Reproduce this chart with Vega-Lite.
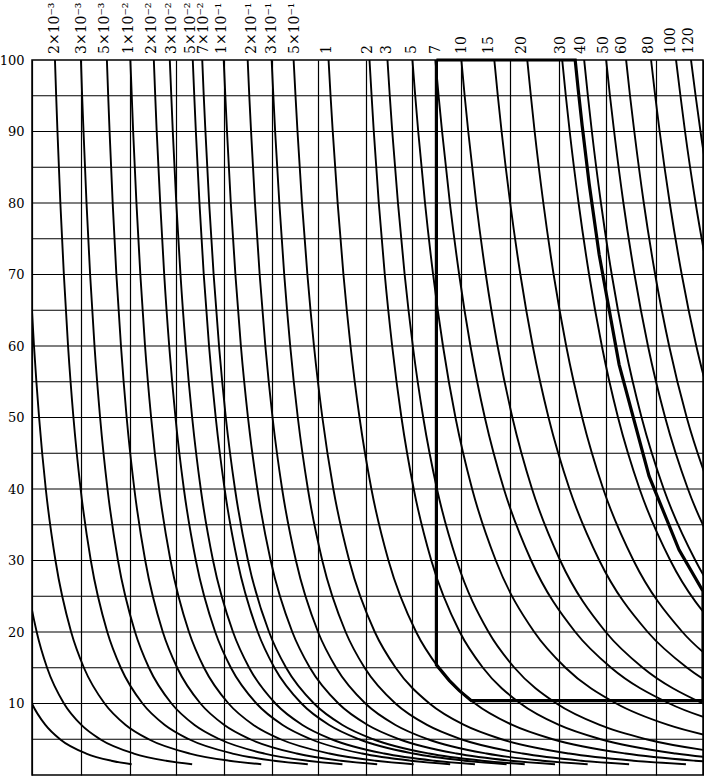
{
  "$schema": "https://vega.github.io/schema/vega-lite/v6.json",
  "width": 671,
  "height": 715,
  "autosize": "none",
  "padding": {"left": 32, "top": 60, "right": 1, "bottom": 2},
  "background": "white",
  "config": {
    "view": {"stroke": "black", "strokeWidth": 1.5},
    "axis": {"gridColor": "black", "gridWidth": 1.2, "gridOpacity": 1, "domain": false, "ticks": false, "labelFont": "DejaVu Serif", "labelFontSize": 13, "labelColor": "black"}
  },
  "datasets": {
    "hgrid": [{"g":5},{"g":10},{"g":15},{"g":20},{"g":25},{"g":30},{"g":35},{"g":40},{"g":45},{"g":50},{"g":55},{"g":60},{"g":65},{"g":70},{"g":75},{"g":80},{"g":85},{"g":90},{"g":95}],
    "curves": [
      {"c":"C","x":-21.4,"y":20},{"c":"C","x":-13.3,"y":15},{"c":"C","x":-0.1,"y":10},{"c":"C","x":13.4,"y":7},{"c":"C","x":28.0,"y":5},{"c":"C","x":54.3,"y":3},{"c":"C","x":79.4,"y":2},{"c":"C","x":99.8,"y":1.5},
      {"c":"B","x":-16.1,"y":40},{"c":"B","x":-8.2,"y":30},{"c":"B","x":4.7,"y":20},{"c":"B","x":15.1,"y":15},{"c":"B","x":32.0,"y":10},{"c":"B","x":49.4,"y":7},{"c":"B","x":68.2,"y":5},{"c":"B","x":102.0,"y":3},{"c":"B","x":134.2,"y":2},{"c":"B","x":160.4,"y":1.5},
      {"c":"A","x":-5.4,"y":80},{"c":"A","x":-2.1,"y":70},{"c":"A","x":2.0,"y":60},{"c":"A","x":7.1,"y":50},{"c":"A","x":13.8,"y":40},{"c":"A","x":23.5,"y":30},{"c":"A","x":39.2,"y":20},{"c":"A","x":52.0,"y":15},{"c":"A","x":72.7,"y":10},{"c":"A","x":93.8,"y":7},{"c":"A","x":116.8,"y":5},{"c":"A","x":158.1,"y":3},{"c":"A","x":197.5,"y":2},{"c":"A","x":229.6,"y":1.5},
      {"c":"k01","x":23,"y":100},{"c":"k01","x":24.2,"y":95},{"c":"k01","x":25.5,"y":90},{"c":"k01","x":28.4,"y":80},{"c":"k01","x":31.9,"y":70},{"c":"k01","x":36.1,"y":60},{"c":"k01","x":41.5,"y":50},{"c":"k01","x":48.7,"y":40},{"c":"k01","x":58.9,"y":30},{"c":"k01","x":75.4,"y":20},{"c":"k01","x":88.9,"y":15},{"c":"k01","x":110.7,"y":10},{"c":"k01","x":133.0,"y":7},{"c":"k01","x":157.2,"y":5},{"c":"k01","x":200.8,"y":3},{"c":"k01","x":242.3,"y":2},{"c":"k01","x":276.2,"y":1.5},
      {"c":"k02","x":49,"y":100},{"c":"k02","x":50.2,"y":95},{"c":"k02","x":51.6,"y":90},{"c":"k02","x":54.6,"y":80},{"c":"k02","x":58.2,"y":70},{"c":"k02","x":62.6,"y":60},{"c":"k02","x":68.2,"y":50},{"c":"k02","x":75.6,"y":40},{"c":"k02","x":86.1,"y":30},{"c":"k02","x":103.2,"y":20},{"c":"k02","x":117.1,"y":15},{"c":"k02","x":139.7,"y":10},{"c":"k02","x":162.8,"y":7},{"c":"k02","x":187.9,"y":5},{"c":"k02","x":232.9,"y":3},{"c":"k02","x":275.9,"y":2},{"c":"k02","x":310.9,"y":1.5},
      {"c":"k03","x":75,"y":100},{"c":"k03","x":76.3,"y":95},{"c":"k03","x":77.7,"y":90},{"c":"k03","x":80.8,"y":80},{"c":"k03","x":84.5,"y":70},{"c":"k03","x":89.1,"y":60},{"c":"k03","x":94.8,"y":50},{"c":"k03","x":102.5,"y":40},{"c":"k03","x":113.4,"y":30},{"c":"k03","x":131.0,"y":20},{"c":"k03","x":145.4,"y":15},{"c":"k03","x":168.7,"y":10},{"c":"k03","x":192.6,"y":7},{"c":"k03","x":218.5,"y":5},{"c":"k03","x":265.1,"y":3},{"c":"k03","x":309.5,"y":2},{"c":"k03","x":345.7,"y":1.5},
      {"c":"k04","x":98.5,"y":100},{"c":"k04","x":99.9,"y":95},{"c":"k04","x":101.3,"y":90},{"c":"k04","x":104.6,"y":80},{"c":"k04","x":108.5,"y":70},{"c":"k04","x":113.2,"y":60},{"c":"k04","x":119.3,"y":50},{"c":"k04","x":127.3,"y":40},{"c":"k04","x":138.7,"y":30},{"c":"k04","x":157.2,"y":20},{"c":"k04","x":172.3,"y":15},{"c":"k04","x":196.8,"y":10},{"c":"k04","x":221.8,"y":7},{"c":"k04","x":248.9,"y":5},{"c":"k04","x":297.8,"y":3},{"c":"k04","x":344.3,"y":2},{"c":"k04","x":382.2,"y":1.5},
      {"c":"k05","x":122,"y":100},{"c":"k05","x":123.4,"y":95},{"c":"k05","x":124.9,"y":90},{"c":"k05","x":128.4,"y":80},{"c":"k05","x":132.4,"y":70},{"c":"k05","x":137.4,"y":60},{"c":"k05","x":143.7,"y":50},{"c":"k05","x":152.1,"y":40},{"c":"k05","x":164.1,"y":30},{"c":"k05","x":183.5,"y":20},{"c":"k05","x":199.2,"y":15},{"c":"k05","x":224.8,"y":10},{"c":"k05","x":251.0,"y":7},{"c":"k05","x":279.4,"y":5},{"c":"k05","x":330.5,"y":3},{"c":"k05","x":379.2,"y":2},{"c":"k05","x":418.8,"y":1.5},
      {"c":"k06","x":138,"y":100},{"c":"k06","x":139.5,"y":95},{"c":"k06","x":141.0,"y":90},{"c":"k06","x":144.5,"y":80},{"c":"k06","x":148.7,"y":70},{"c":"k06","x":153.9,"y":60},{"c":"k06","x":160.4,"y":50},{"c":"k06","x":169.0,"y":40},{"c":"k06","x":181.3,"y":30},{"c":"k06","x":201.3,"y":20},{"c":"k06","x":217.5,"y":15},{"c":"k06","x":243.8,"y":10},{"c":"k06","x":270.8,"y":7},{"c":"k06","x":300.0,"y":5},{"c":"k06","x":352.6,"y":3},{"c":"k06","x":402.7,"y":2},{"c":"k06","x":443.6,"y":1.5},
      {"c":"k07","x":161,"y":100},{"c":"k07","x":162.5,"y":95},{"c":"k07","x":164.1,"y":90},{"c":"k07","x":167.7,"y":80},{"c":"k07","x":172.0,"y":70},{"c":"k07","x":177.3,"y":60},{"c":"k07","x":184.0,"y":50},{"c":"k07","x":192.9,"y":40},{"c":"k07","x":205.6,"y":30},{"c":"k07","x":226.1,"y":20},{"c":"k07","x":242.8,"y":15},{"c":"k07","x":269.9,"y":10},{"c":"k07","x":297.6,"y":7},{"c":"k07","x":327.6,"y":5},{"c":"k07","x":381.7,"y":3},{"c":"k07","x":433.3,"y":2},{"c":"k07","x":475.3,"y":1.5},
      {"c":"k08","x":170.5,"y":100},{"c":"k08","x":172.0,"y":95},{"c":"k08","x":173.7,"y":90},{"c":"k08","x":177.4,"y":80},{"c":"k08","x":181.9,"y":70},{"c":"k08","x":187.3,"y":60},{"c":"k08","x":194.1,"y":50},{"c":"k08","x":203.3,"y":40},{"c":"k08","x":216.3,"y":30},{"c":"k08","x":237.4,"y":20},{"c":"k08","x":254.5,"y":15},{"c":"k08","x":282.4,"y":10},{"c":"k08","x":310.9,"y":7},{"c":"k08","x":341.8,"y":5},{"c":"k08","x":397.4,"y":3},{"c":"k08","x":450.4,"y":2},{"c":"k08","x":493.5,"y":1.5},
      {"c":"k09","x":192,"y":100},{"c":"k09","x":193.6,"y":95},{"c":"k09","x":195.3,"y":90},{"c":"k09","x":199.1,"y":80},{"c":"k09","x":203.7,"y":70},{"c":"k09","x":209.2,"y":60},{"c":"k09","x":216.3,"y":50},{"c":"k09","x":225.7,"y":40},{"c":"k09","x":239.0,"y":30},{"c":"k09","x":260.7,"y":20},{"c":"k09","x":278.3,"y":15},{"c":"k09","x":306.9,"y":10},{"c":"k09","x":336.2,"y":7},{"c":"k09","x":367.9,"y":5},{"c":"k09","x":425.0,"y":3},{"c":"k09","x":479.4,"y":2},{"c":"k09","x":523.8,"y":1.5},
      {"c":"k10","x":216,"y":100},{"c":"k10","x":217.6,"y":95},{"c":"k10","x":219.4,"y":90},{"c":"k10","x":223.3,"y":80},{"c":"k10","x":228.0,"y":70},{"c":"k10","x":233.7,"y":60},{"c":"k10","x":240.9,"y":50},{"c":"k10","x":250.5,"y":40},{"c":"k10","x":264.3,"y":30},{"c":"k10","x":286.5,"y":20},{"c":"k10","x":304.6,"y":15},{"c":"k10","x":333.9,"y":10},{"c":"k10","x":364.0,"y":7},{"c":"k10","x":396.5,"y":5},{"c":"k10","x":455.1,"y":3},{"c":"k10","x":511.0,"y":2},{"c":"k10","x":556.5,"y":1.5},
      {"c":"k11","x":240,"y":100},{"c":"k11","x":241.7,"y":95},{"c":"k11","x":243.5,"y":90},{"c":"k11","x":247.7,"y":80},{"c":"k11","x":252.6,"y":70},{"c":"k11","x":258.6,"y":60},{"c":"k11","x":266.2,"y":50},{"c":"k11","x":276.3,"y":40},{"c":"k11","x":290.7,"y":30},{"c":"k11","x":314.1,"y":20},{"c":"k11","x":333.1,"y":15},{"c":"k11","x":364.0,"y":10},{"c":"k11","x":395.6,"y":7},{"c":"k11","x":429.8,"y":5},{"c":"k11","x":491.4,"y":3},{"c":"k11","x":550.1,"y":2},{"c":"k11","x":598.0,"y":1.5},
      {"c":"k12","x":262,"y":100},{"c":"k12","x":263.9,"y":95},{"c":"k12","x":265.9,"y":90},{"c":"k12","x":270.4,"y":80},{"c":"k12","x":275.8,"y":70},{"c":"k12","x":282.4,"y":60},{"c":"k12","x":290.8,"y":50},{"c":"k12","x":301.8,"y":40},{"c":"k12","x":317.7,"y":30},{"c":"k12","x":343.3,"y":20},{"c":"k12","x":364.2,"y":15},{"c":"k12","x":398.1,"y":10},{"c":"k12","x":432.7,"y":7},{"c":"k12","x":470.3,"y":5},{"c":"k12","x":537.9,"y":3},{"c":"k12","x":602.4,"y":2},{"c":"k12","x":654.9,"y":1.5},
      {"c":"k13","x":297,"y":100},{"c":"k13","x":299.0,"y":95},{"c":"k13","x":301.2,"y":90},{"c":"k13","x":306.1,"y":80},{"c":"k13","x":311.9,"y":70},{"c":"k13","x":319.0,"y":60},{"c":"k13","x":328.0,"y":50},{"c":"k13","x":339.9,"y":40},{"c":"k13","x":357.0,"y":30},{"c":"k13","x":384.7,"y":20},{"c":"k13","x":407.2,"y":15},{"c":"k13","x":443.7,"y":10},{"c":"k13","x":481.0,"y":7},{"c":"k13","x":521.5,"y":5},{"c":"k13","x":594.4,"y":3},{"c":"k13","x":663.8,"y":2},{"c":"k13","x":720.4,"y":1.5},
      {"c":"k14","x":338,"y":100},{"c":"k14","x":340.1,"y":95},{"c":"k14","x":342.3,"y":90},{"c":"k14","x":347.3,"y":80},{"c":"k14","x":353.3,"y":70},{"c":"k14","x":360.7,"y":60},{"c":"k14","x":370.0,"y":50},{"c":"k14","x":382.3,"y":40},{"c":"k14","x":399.9,"y":30},{"c":"k14","x":428.4,"y":20},{"c":"k14","x":451.6,"y":15},{"c":"k14","x":489.2,"y":10},{"c":"k14","x":527.7,"y":7},{"c":"k14","x":569.5,"y":5},{"c":"k14","x":644.6,"y":3},{"c":"k14","x":716.2,"y":2},
      {"c":"k15","x":356,"y":100},{"c":"k15","x":358.3,"y":95},{"c":"k15","x":360.8,"y":90},{"c":"k15","x":366.5,"y":80},{"c":"k15","x":373.2,"y":70},{"c":"k15","x":381.4,"y":60},{"c":"k15","x":391.8,"y":50},{"c":"k15","x":405.6,"y":40},{"c":"k15","x":425.3,"y":30},{"c":"k15","x":457.2,"y":20},{"c":"k15","x":483.2,"y":15},{"c":"k15","x":525.3,"y":10},{"c":"k15","x":568.5,"y":7},{"c":"k15","x":615.2,"y":5},{"c":"k15","x":699.4,"y":3},
      {"c":"k16","x":381,"y":100},{"c":"k16","x":383.8,"y":95},{"c":"k16","x":386.8,"y":90},{"c":"k16","x":393.6,"y":80},{"c":"k16","x":401.7,"y":70},{"c":"k16","x":411.6,"y":60},{"c":"k16","x":424.1,"y":50},{"c":"k16","x":440.8,"y":40},{"c":"k16","x":464.5,"y":30},{"c":"k16","x":503.0,"y":20},{"c":"k16","x":534.3,"y":15},{"c":"k16","x":585.1,"y":10},{"c":"k16","x":637.1,"y":7},{"c":"k16","x":693.5,"y":5},
      {"c":"k17","x":404,"y":100},{"c":"k17","x":407.2,"y":95},{"c":"k17","x":410.7,"y":90},{"c":"k17","x":418.5,"y":80},{"c":"k17","x":427.8,"y":70},{"c":"k17","x":439.1,"y":60},{"c":"k17","x":453.5,"y":50},{"c":"k17","x":472.6,"y":40},{"c":"k17","x":499.9,"y":30},{"c":"k17","x":544.1,"y":20},{"c":"k17","x":580.0,"y":15},{"c":"k17","x":638.3,"y":10},{"c":"k17","x":698.1,"y":7},
      {"c":"k18","x":430,"y":100},{"c":"k18","x":433.3,"y":95},{"c":"k18","x":436.9,"y":90},{"c":"k18","x":444.9,"y":80},{"c":"k18","x":454.5,"y":70},{"c":"k18","x":466.3,"y":60},{"c":"k18","x":481.1,"y":50},{"c":"k18","x":500.8,"y":40},{"c":"k18","x":529.0,"y":30},{"c":"k18","x":574.6,"y":20},{"c":"k18","x":611.7,"y":15},{"c":"k18","x":671.9,"y":10},{"c":"k18","x":733.5,"y":7},
      {"c":"k19","x":463,"y":100},{"c":"k19","x":466.5,"y":95},{"c":"k19","x":470.3,"y":90},{"c":"k19","x":478.9,"y":80},{"c":"k19","x":489.1,"y":70},{"c":"k19","x":501.5,"y":60},{"c":"k19","x":517.3,"y":50},{"c":"k19","x":538.3,"y":40},{"c":"k19","x":568.2,"y":30},{"c":"k19","x":616.6,"y":20},{"c":"k19","x":656.1,"y":15},{"c":"k19","x":720.0,"y":10},
      {"c":"k20","x":496,"y":100},{"c":"k20","x":499.6,"y":95},{"c":"k20","x":503.4,"y":90},{"c":"k20","x":512.1,"y":80},{"c":"k20","x":522.4,"y":70},{"c":"k20","x":535.0,"y":60},{"c":"k20","x":551.0,"y":50},{"c":"k20","x":572.1,"y":40},{"c":"k20","x":602.4,"y":30},{"c":"k20","x":651.4,"y":20},{"c":"k20","x":691.3,"y":15},
      {"c":"k21","x":531,"y":100},{"c":"k21","x":534.6,"y":95},{"c":"k21","x":538.5,"y":90},{"c":"k21","x":547.4,"y":80},{"c":"k21","x":557.9,"y":70},{"c":"k21","x":570.7,"y":60},{"c":"k21","x":586.9,"y":50},{"c":"k21","x":608.5,"y":40},{"c":"k21","x":639.3,"y":30},{"c":"k21","x":689.2,"y":20},
      {"c":"k22","x":553,"y":100},{"c":"k22","x":556.7,"y":95},{"c":"k22","x":560.7,"y":90},{"c":"k22","x":569.8,"y":80},{"c":"k22","x":580.6,"y":70},{"c":"k22","x":593.8,"y":60},{"c":"k22","x":610.5,"y":50},{"c":"k22","x":632.7,"y":40},{"c":"k22","x":664.4,"y":30},{"c":"k22","x":715.7,"y":20},
      {"c":"k23","x":575,"y":100},{"c":"k23","x":578.8,"y":95},{"c":"k23","x":583.0,"y":90},{"c":"k23","x":592.3,"y":80},{"c":"k23","x":603.4,"y":70},{"c":"k23","x":616.9,"y":60},{"c":"k23","x":634.1,"y":50},{"c":"k23","x":656.9,"y":40},{"c":"k23","x":689.5,"y":30},
      {"c":"k24","x":595,"y":100},{"c":"k24","x":598.9,"y":95},{"c":"k24","x":603.2,"y":90},{"c":"k24","x":612.7,"y":80},{"c":"k24","x":624.1,"y":70},{"c":"k24","x":638.1,"y":60},{"c":"k24","x":655.7,"y":50},{"c":"k24","x":679.1,"y":40},
      {"c":"k25","x":620,"y":100},{"c":"k25","x":624.1,"y":95},{"c":"k25","x":628.6,"y":90},{"c":"k25","x":638.7,"y":80},{"c":"k25","x":650.7,"y":70},{"c":"k25","x":665.3,"y":60},{"c":"k25","x":683.9,"y":50},
      {"c":"k26","x":645,"y":100},{"c":"k26","x":649.4,"y":95},{"c":"k26","x":654.0,"y":90},{"c":"k26","x":664.6,"y":80},{"c":"k26","x":677.2,"y":70},
      {"c":"k27","x":660,"y":100},{"c":"k27","x":664.6,"y":95},{"c":"k27","x":669.5,"y":90},{"c":"k27","x":680.6,"y":80}
    ],
    "frame": [
      {"o":0,"fx":405,"fy":100},{"o":1,"fx":405,"fy":15.4},{"o":2,"fx":418,"fy":13.2},{"o":3,"fx":428,"fy":11.8},{"o":4,"fx":440,"fy":10.4},{"o":5,"fx":672,"fy":10.4},{"o":6,"fx":672,"fy":25.7},{"o":7,"fx":648,"fy":31.5},{"o":8,"fx":618,"fy":41.8},{"o":9,"fx":588,"fy":57.4},{"o":10,"fx":568,"fy":72.8},{"o":11,"fx":558,"fy":82.7},{"o":12,"fx":551,"fy":90.8},{"o":13,"fx":547,"fy":95.9},{"o":14,"fx":544,"fy":100},{"o":15,"fx":405,"fy":100}
    ],
    "labels": [
      {"t":"2×10⁻³","lx":23},{"t":"3×10⁻³","lx":50},{"t":"5×10⁻³","lx":73},{"t":"1×10⁻²","lx":97},{"t":"2×10⁻²","lx":120},{"t":"3×10⁻²","lx":140},{"t":"5×10⁻²","lx":159},{"t":"7×10⁻²","lx":172},{"t":"1×10⁻¹","lx":190},{"t":"2×10⁻¹","lx":220},{"t":"3×10⁻¹","lx":240},{"t":"5×10⁻¹","lx":263},{"t":"1","lx":295},{"t":"2","lx":336},{"t":"3","lx":356},{"t":"5","lx":381},{"t":"7","lx":405},{"t":"10","lx":431},{"t":"15","lx":458},{"t":"20","lx":491},{"t":"30","lx":530},{"t":"40","lx":550},{"t":"50","lx":573},{"t":"60","lx":591},{"t":"80","lx":618},{"t":"100","lx":640},{"t":"120","lx":658}
    ]
  },
  "layer": [
    {
      "data": {"name": "hgrid"},
      "mark": {"type": "rule", "color": "black", "strokeWidth": 1.2},
      "encoding": {
        "y": {"field": "g", "type": "quantitative", "scale": {"domain": [0, 100], "nice": false, "zero": true},
              "axis": {"title": null, "grid": false, "labelPadding": 8, "values": [10,20,30,40,50,60,70,80,90,100]}}
      }
    },
    {
      "data": {"name": "curves"},
      "mark": {"type": "line", "interpolate": "monotone", "clip": true, "color": "black", "strokeWidth": 1.9},
      "encoding": {
        "x": {"field": "x", "type": "quantitative", "scale": {"domain": [0, 672], "nice": false, "zero": false},
              "axis": {"title": null, "grid": true, "labels": false, "values": [0,23,49,75,98,122,144,169,192,215,240,261,286,308,334,355,381,405,430,454,479,501,528,550,575,599,625,648,672]}},
        "y": {"field": "y", "type": "quantitative"},
        "detail": {"field": "c"}
      }
    },
    {
      "data": {"name": "frame"},
      "mark": {"type": "line", "interpolate": "linear", "color": "black", "strokeWidth": 3.2, "strokeJoin": "miter"},
      "encoding": {
        "x": {"field": "fx", "type": "quantitative"},
        "y": {"field": "fy", "type": "quantitative"},
        "order": {"field": "o", "type": "quantitative"}
      }
    },
    {
      "data": {"name": "labels"},
      "mark": {"type": "text", "angle": 270, "align": "left", "baseline": "middle", "dx": 6, "font": "DejaVu Serif", "fontSize": 14, "color": "black"},
      "encoding": {
        "x": {"field": "lx", "type": "quantitative"},
        "y": {"datum": 100, "type": "quantitative"},
        "text": {"field": "t"}
      }
    }
  ]
}
